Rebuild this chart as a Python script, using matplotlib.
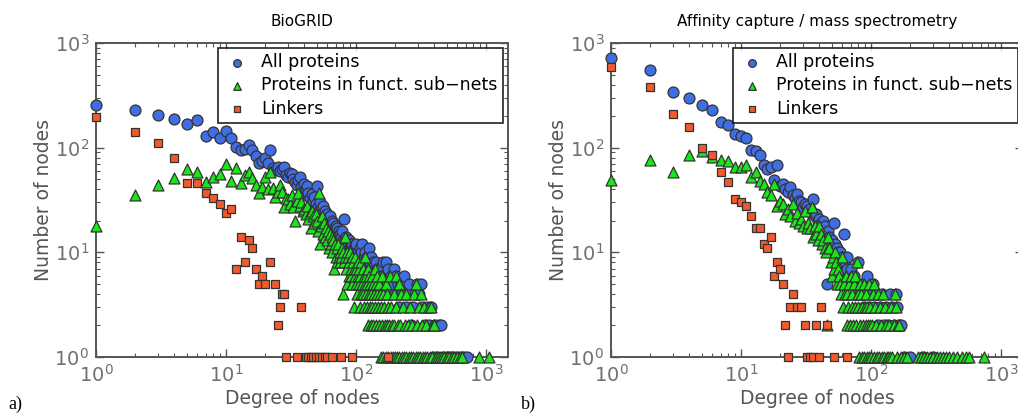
import matplotlib
matplotlib.use("Agg")
import matplotlib.pyplot as plt

# ---------------- data: (degree, number of nodes) ----------------
bio_all = [(1,257),(2,229),(3,205),(4,187),(5,169),(6,182),(7,130),(8,142),(9,125),(10,145),
(11,125),(12,101),(13,94),(14,97),(15,106),(16,96),(17,83),(18,71),(19,75),(20,79),
(21,72),(22,94),(23,64),(24,61),(25,65),(26,60),(27,62),(28,66),(29,55),(30,52),
(31,57),(32,56),(33,50),(34,47),(35,44),(36,49),(37,53),(38,42),(39,35),(40,45),
(41,40),(42,43),(43,37),(44,33),(45,28),(46,36),(47,31),(48,34),(49,29),(50,43),
(51,27),(52,25),(53,30),(54,26),(55,24),(56,28),(57,22),(58,25),(59,20),(60,23),
(61,21),(62,19),(63,22),(64,18),(65,20),(66,17),(67,19),(68,17),(69,16),(70,18),
(71,15),(72,17),(73,14),(74,16),(75,13),(76,15),(77,14),(78,16),(79,12),(80,13),
(81,21),(82,13),(83,12),(84,14),(85,11),(86,13),(87,12),(88,10),(89,13),(90,11),
(91,12),(92,10),(93,12),(94,12),(95,10),(96,11),(98,9),(99,11),(100,10),(101,12),
(103,9),(104,10),(106,8),(107,11),(109,9),(110,10),(112,12),(114,8),(116,9),(118,10),
(120,8),(122,9),(124,7),(126,11),(128,8),(130,9),(133,7),(136,8),(139,6),(142,8),
(145,7),(148,5),(152,7),(155,6),(158,5),(162,8),(166,6),(170,8),(174,5),(178,7),
(182,4),(186,6),(190,5),(196,7),(200,4),(205,6),(210,5),(216,3),(222,5),(228,4),
(235,6),(242,3),(250,4),(258,5),(266,2),(275,3),(285,4),(295,5),(305,4),(315,5),
(325,3),(340,2),(355,3),(368,2),(377,3),(390,1),(405,2),(420,1),(437,2),(450,2),
(470,1),(500,1),(530,1),(560,1),(600,1),(640,1),(680,1),(720,1)]

bio_sub = [(1,18),(2,35),(3,44),(4,51),(5,62),(6,59),(7,47),(8,52),(9,56),(10,70),
(11,48),(12,64),(13,46),(14,55),(15,59),(16,51),(17,44),(18,37),(19,42),(20,53),
(21,40),(22,58),(23,41),(24,34),(25,38),(26,44),(27,38),(28,27),(29,33),(30,32),
(31,29),(32,35),(33,27),(34,20),(35,31),(36,37),(37,28),(38,30),(39,25),(40,26),
(41,23),(42,28),(43,21),(44,24),(45,17),(46,25),(47,22),(48,19),(49,23),(50,20),
(51,16),(52,37),(53,12),(54,18),(55,22),(56,15),(57,19),(58,14),(59,17),(60,13),
(61,16),(62,11),(63,15),(64,12),(65,14),(66,10),(67,13),(68,7),(69,12),(70,9),
(71,11),(72,8),(73,12),(74,9),(75,10),(76,8),(77,9),(78,11),(79,4),(80,10),
(81,8),(82,14),(83,9),(84,7),(85,10),(86,5),(87,9),(88,6),(89,8),(90,10),
(91,7),(92,6),(93,9),(94,5),(95,8),(96,7),(97,3),(98,6),(99,9),(100,5),
(101,7),(102,4),(103,8),(104,6),(105,5),(106,7),(107,3),(108,6),(109,4),(110,8),
(112,5),(113,7),(114,4),(115,6),(116,3),(117,5),(118,9),(119,4),(120,6),(121,3),
(122,5),(123,2),(124,7),(125,4),(126,6),(128,3),(129,5),(130,2),(131,4),(132,6),
(134,3),(135,5),(136,2),(138,4),(139,7),(140,3),(142,5),(143,2),(145,4),(146,6),
(148,3),(150,2),(151,5),(153,4),(155,1),(156,3),(158,2),(160,6),(161,4),(163,1),
(165,3),(167,2),(169,5),(170,1),(172,4),(174,2),(176,3),(178,1),(180,2),(183,6),
(185,1),(187,3),(190,2),(192,1),(195,4),(197,2),(200,1),(203,6),(205,3),(208,1),
(211,2),(214,5),(216,1),(220,2),(223,4),(226,1),(230,3),(234,1),(238,2),(242,4),
(245,1),(250,2),(255,1),(260,3),(265,1),(270,2),(276,1),(282,4),(288,1),(290,5),
(295,2),(300,1),(306,3),(312,1),(315,4),(320,2),(328,1),(335,3),(340,1),(348,2),
(355,1),(362,3),(370,1),(377,3),(385,1),(390,2),(400,2),(410,1),(425,1),(440,1),
(460,1),(480,1),(500,1),(520,1),(545,1),(570,1),(600,1),(630,1),(660,1),(880,1),(1060,1)]

bio_link = [(1,197),(2,140),(3,112),(4,79),(5,46),(6,46),(7,37),(8,33),(9,29),(10,24),
(11,26),(12,7),(13,14),(14,8),(15,13),(16,11),(17,7),(18,5),(19,6),(20,5),
(22,8),(24,5),(25,2),(26,3),(27,4),(28,4),(29,1),(35,1),(38,3),(41,1),(43,1),
(45,1),(47,1),(49,1),(52,1),(55,1),(58,1),(60,1),(66,1),(77,1),(94,1),(175,1)]

aff_all = [(1,720),(2,548),(3,342),(4,296),(5,255),(6,228),(7,176),(8,164),(9,134),(10,129),
(11,125),(12,95),(13,93),(14,85),(15,68),(16,63),(17,66),(18,49),(19,68),(20,43),
(21,45),(22,40),(23,38),(24,42),(25,35),(26,33),(27,36),(28,31),(29,30),(30,27),
(31,29),(32,28),(33,25),(34,26),(35,24),(36,32),(37,22),(38,23),(39,20),(40,21),
(41,19),(42,17),(43,20),(44,18),(45,15),(46,5),(47,16),(48,14),(49,12),(50,13),
(51,11),(52,19),(53,12),(54,10),(55,11),(56,9),(57,10),(58,10),(59,8),(60,9),
(61,7),(62,15),(63,8),(64,6),(65,7),(66,9),(67,5),(68,6),(70,7),(72,5),
(74,6),(76,4),(78,5),(80,8),(82,4),(85,5),(88,3),(90,4),(93,6),(96,3),
(100,4),(103,5),(106,3),(110,4),(114,2),(118,3),(122,4),(126,2),(130,3),(135,2),
(140,4),(145,3),(150,2),(155,4),(160,3),(165,2),(170,2),(180,1),(200,1),(250,1),(300,1)]

aff_sub = [(1,49),(2,76),(3,58),(4,85),(5,93),(6,82),(7,77),(8,75),(9,66),(10,66),
(11,68),(12,52),(13,58),(14,48),(15,45),(16,38),(17,35),(18,45),(19,28),(20,31),
(21,29),(22,23),(23,26),(24,22),(25,29),(26,20),(27,24),(28,19),(29,21),(30,18),
(31,25),(32,17),(33,19),(34,17),(35,27),(36,14),(37,18),(38,15),(39,13),(40,18),
(41,15),(42,12),(43,13),(44,11),(45,10),(46,2),(47,14),(48,11),(49,8),(50,6),
(51,9),(52,7),(53,10),(54,8),(55,5),(56,7),(57,6),(58,5),(59,4),(60,9),
(61,3),(62,5),(63,4),(64,6),(65,2),(66,4),(67,3),(68,5),(69,2),(70,6),
(71,3),(72,4),(73,2),(74,5),(75,3),(76,6),(77,2),(78,8),(79,4),(80,3),
(81,1),(82,5),(83,2),(84,4),(85,1),(86,3),(87,2),(88,5),(89,1),(90,3),
(91,2),(92,4),(93,1),(94,3),(95,2),(96,1),(97,5),(98,2),(99,3),(100,1),
(102,2),(103,4),(105,5),(106,1),(108,3),(110,2),(112,1),(114,4),(116,1),(118,3),
(120,2),(122,1),(124,4),(126,1),(128,3),(130,2),(132,1),(135,1),(138,2),(140,1),
(143,3),(146,1),(150,2),(152,4),(155,3),(158,1),(162,2),(165,2),(170,1),(180,1),
(190,1),(232,1),(245,1),(255,1),(270,1),(285,1),(300,1),(320,1),(340,1),(360,1),
(380,1),(400,1),(430,1),(460,1),(500,1),(540,1),(566,1),(740,1)]

aff_link = [(1,594),(2,377),(3,212),(4,156),(5,99),(6,85),(7,58),(8,47),(9,32),(10,30),
(11,28),(12,22),(13,17),(14,17),(15,12),(16,11),(17,14),(18,6),(19,8),(20,7),
(21,5),(22,2),(23,1),(24,3),(25,4),(27,3),(29,3),(31,2),(32,1),(34,1),
(36,1),(38,2),(40,1),(41,3),(46,2),(52,1),(65,1)]

titles = ["BioGRID", "Affinity capture / mass spectrometry"]
series_names = ["All proteins", "Proteins in funct. sub\u2212nets", "Linkers"]
panel_tags = ["a)", "b)"]

# ---------------- style ----------------
C_BLUE = "#3f6de4"
C_GREEN = "#19e619"
C_ORANGE = "#f25a2c"
GRAY = "#555555"

plt.rcParams["font.family"] = ["DejaVu Sans"]
plt.rcParams["mathtext.fontset"] = "dejavusans"

fig = plt.figure(figsize=(10.18, 4.13), dpi=100)
W, H = 1018.0, 413.0
ax_w = 412 / W
ax_h = 314 / H
ax_b = (H - 357) / H
axes = [fig.add_axes([96 / W, ax_b, ax_w, ax_h]),
        fig.add_axes([611 / W, ax_b, ax_w, ax_h])]

datasets = [(bio_all, bio_sub, bio_link), (aff_all, aff_sub, aff_link)]

for ax, (d_all, d_sub, d_link), title, tag in zip(axes, datasets, titles, panel_tags):
    for data, col, mk, sz in [(d_all, C_BLUE, "o", 62),
                              (d_sub, C_GREEN, "^", 62),
                              (d_link, C_ORANGE, "s", 38)]:
        k, n = zip(*data)
        ax.scatter(k, n, s=sz, marker=mk, facecolor=col, edgecolor="#333333",
                   linewidth=0.9, zorder=3, clip_on=False)
    ax.set_xscale("log")
    ax.set_yscale("log")
    ax.set_xlim(1, 1480)
    ax.set_ylim(1, 1000)
    for sp in ax.spines.values():
        sp.set_color(GRAY)
        sp.set_linewidth(1.4)
    ax.tick_params(which="both", direction="in", top=True, right=True,
                   colors=GRAY, labelcolor="#707070")
    ax.tick_params(which="major", length=6, width=1.0, labelsize=14, pad=5)
    ax.tick_params(which="minor", length=3, width=0.8)
    ax.set_xlabel("Degree of nodes", color=GRAY, fontsize=13.5, labelpad=2)
    ax.set_ylabel("Number of nodes", color=GRAY, fontsize=13.5, labelpad=1)
    ax.set_title(title, fontsize=11, color="black", pad=12)
    leg = ax.legend(series_names, loc="upper right", bbox_to_anchor=(0.988, 0.984),
                    borderaxespad=0, fontsize=12.5, markerscale=0.7, frameon=True,
                    fancybox=False, handletextpad=0.6, borderpad=0.3,
                    labelspacing=0.3, handlelength=1.6)
    leg.get_frame().set_edgecolor("black")
    leg.get_frame().set_linewidth(1.3)
    leg.set_zorder(5)

fig.text(8 / W, 4 / H, panel_tags[0], family="Liberation Serif", fontsize=13, color="black")
fig.text(521 / W, 4 / H, panel_tags[1], family="Liberation Serif", fontsize=13, color="black")

fig.savefig("out.png", dpi=100)
